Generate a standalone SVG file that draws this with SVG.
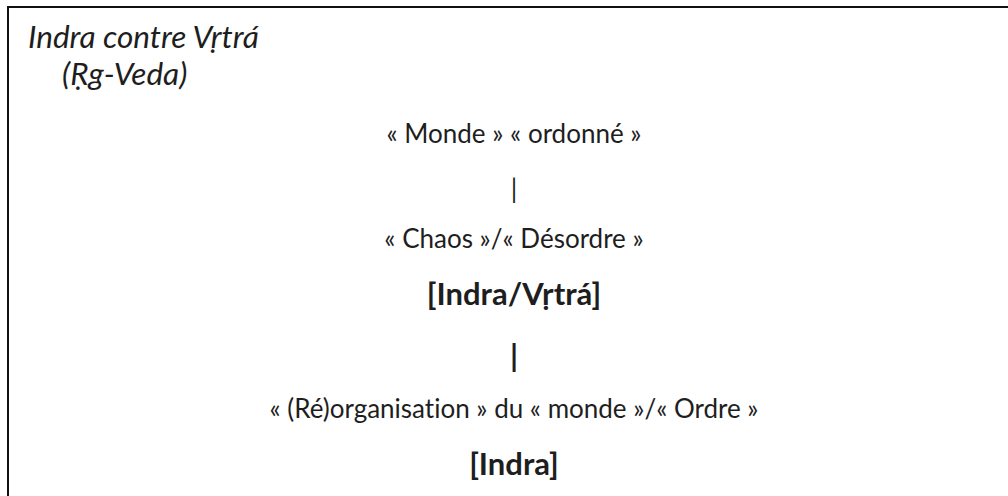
<svg xmlns="http://www.w3.org/2000/svg" width="1008" height="496" viewBox="0 0 1008 496">
<style>
.t{font-family:Lato,"Open Sans","Liberation Sans",sans-serif;fill:#1e1e1e;text-anchor:middle;font-size:26px;font-variant-ligatures:none}
.b{font-weight:bold;font-size:31px}
.i{font-style:italic;text-anchor:start;font-size:31.5px}
</style>
<rect width="1008" height="496" fill="#fff"/>
<g id="frame"><path d="M8 500 V7 H1010" fill="none" stroke="#111" stroke-width="2"/></g>
<g id="title">
<text class="t i" x="28" y="48">Indra contre Vṛtrá</text>
<text class="t i" x="62" y="85">(Ṛg-Veda)</text>
</g>
<g id="connectors">
<text class="t" x="514" y="198">|</text>
<text class="t b" x="514" y="367">|</text>
</g>
<g id="n1"><text class="t" x="514" y="143">« Monde » « ordonné »</text></g>
<g id="n2"><text class="t" x="514" y="248">« Chaos »/« Désordre »</text></g>
<g id="n3"><text class="t b" x="514" y="305">[Indra/Vṛtrá]</text></g>
<g id="n4"><text class="t" x="514" y="418">« (Ré)organisation » du « monde »/« Ordre »</text></g>
<g id="n5"><text class="t b" x="514" y="475">[Indra]</text></g>
</svg>
